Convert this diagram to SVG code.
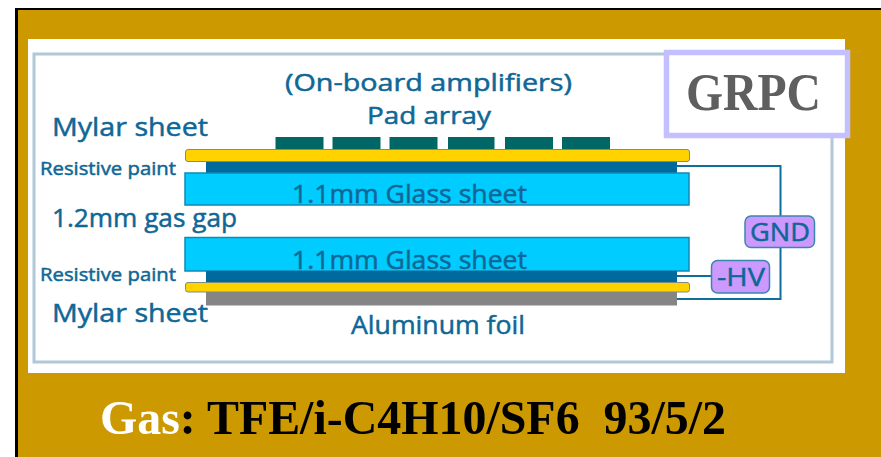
<svg xmlns="http://www.w3.org/2000/svg" width="881" height="457" viewBox="0 0 881 457">
<style>
.lbl{font-family:"Open Sans","DejaVu Sans",sans-serif;fill:#0f6796;stroke:#0f6796;stroke-width:.5}
.b{font-size:26px}.s{font-size:18px}.u{font-size:24px}
.wire{fill:none;stroke:#0f6f9c;stroke-width:2}
.pad{fill:#006666}.my{fill:#ffd200;stroke:#7f8c80;stroke-width:1}
.paint{fill:#006a9f}.glass{fill:#00ccff;stroke:#0c8ab8;stroke-width:1.5}
.hv{fill:#cc99ff;stroke:#3a86ad;stroke-width:1.5}
.t{font-family:"Liberation Serif","Times New Roman",serif;font-weight:bold}
</style>
<rect x="0" y="0" width="881" height="457" fill="#fff"/>
<rect x="15" y="8" width="866" height="449" fill="#000"/>
<rect x="18" y="10" width="863" height="447" fill="#cc9900"/>
<rect x="28" y="39" width="817" height="334" fill="#fff"/>
<rect x="34" y="54" width="798" height="308" fill="none" stroke="#b0c8d8" stroke-width="3"/>
<g id="connectors">
<path class="wire" d="M677 166H780.500V216"/>
<path class="wire" d="M780.500 248V299H677"/>
<path class="wire" d="M677 276H712"/>
</g>
<g id="pads">
<rect class="pad" x="275.500" y="137" width="48" height="12"/>
<rect class="pad" x="332.500" y="137" width="48" height="12"/>
<rect class="pad" x="389.500" y="137" width="48" height="12"/>
<rect class="pad" x="448" y="137" width="46.500" height="12"/>
<rect class="pad" x="505" y="137" width="48" height="12"/>
<rect class="pad" x="562" y="137" width="48" height="12"/>
</g>
<g id="upper-stack">
<rect class="paint" x="206" y="161" width="471" height="12"/>
<rect class="my" x="185.500" y="149.500" width="504" height="12" rx="2.500"/>
<rect class="glass" x="185" y="173" width="504" height="32"/>
</g>
<g id="lower-stack">
<rect class="glass" x="185" y="237.500" width="504" height="33.500"/>
<rect class="paint" x="206" y="271" width="471" height="11"/>
<rect x="206" y="292" width="471" height="13.500" fill="#858585"/>
<rect class="my" x="185.500" y="282.500" width="504" height="9.500" rx="2.500"/>
</g>
<g id="labels">
<text class="lbl u" x="285" y="91" textLength="287" lengthAdjust="spacingAndGlyphs">(On-board amplifiers)</text>
<text class="lbl u" x="367" y="124" textLength="124" lengthAdjust="spacingAndGlyphs">Pad array</text>
<text class="lbl b" x="52" y="136" textLength="156" lengthAdjust="spacingAndGlyphs">Mylar sheet</text>
<text class="lbl s" x="40" y="175" textLength="136" lengthAdjust="spacingAndGlyphs">Resistive paint</text>
<text class="lbl b" x="52" y="227" textLength="185" lengthAdjust="spacingAndGlyphs">1.2mm gas gap</text>
<text class="lbl b" x="292" y="203" textLength="235" lengthAdjust="spacingAndGlyphs">1.1mm Glass sheet</text>
<text class="lbl b" x="292" y="269" textLength="235" lengthAdjust="spacingAndGlyphs">1.1mm Glass sheet</text>
<text class="lbl s" x="40" y="281" textLength="136" lengthAdjust="spacingAndGlyphs">Resistive paint</text>
<text class="lbl b" x="52" y="322" textLength="156" lengthAdjust="spacingAndGlyphs">Mylar sheet</text>
<text class="lbl b" x="351" y="334" textLength="174" lengthAdjust="spacingAndGlyphs">Aluminum foil</text>
</g>
<g id="gnd">
<rect class="hv" x="745" y="216" width="69.500" height="31.500" rx="6"/>
<text class="lbl b" x="750" y="241" textLength="60" lengthAdjust="spacingAndGlyphs">GND</text>
</g>
<g id="hv">
<rect class="hv" x="711.500" y="260.500" width="58" height="32.500" rx="6"/>
<text class="lbl b" x="717" y="286" textLength="48" lengthAdjust="spacingAndGlyphs">-HV</text>
</g>
<g id="grpc">
<rect x="666.500" y="52.500" width="181" height="83" fill="#fff" stroke="#c4c0ff" stroke-width="5.500"/>
<text class="t" x="686" y="110" font-size="52" fill="#5f5f5f" textLength="135" lengthAdjust="spacingAndGlyphs">GRPC</text>
</g>
<g id="gas">
<text class="t" x="100" y="434" font-size="49" xml:space="preserve" textLength="626" lengthAdjust="spacingAndGlyphs"><tspan fill="#fff">Gas</tspan><tspan fill="#000">: TFE/i-C4H10/SF6  93/5/2</tspan></text>
</g>
</svg>
